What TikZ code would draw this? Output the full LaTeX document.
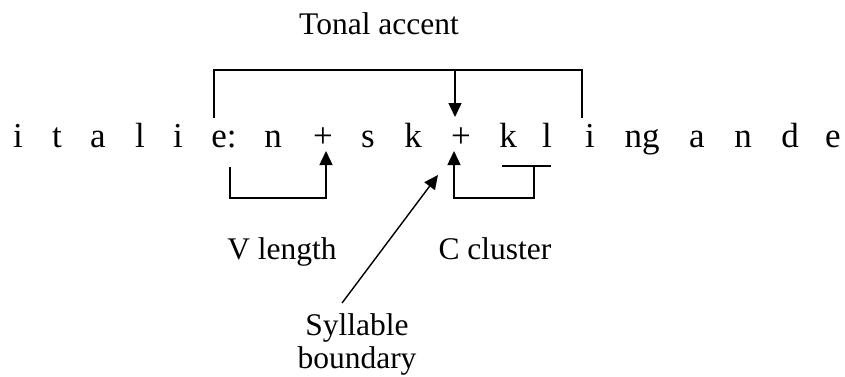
\documentclass[tikz,border=0pt]{standalone}
\usepackage{fontspec}
\setmainfont{Liberation Serif}
\usetikzlibrary{arrows.meta}
\begin{document}
\begin{tikzpicture}[x=1pt,y=-1pt,
  seg/.style={inner sep=0pt,anchor=base,font=\fontsize{35}{35}\selectfont},
  lbl/.style={inner sep=0pt,anchor=base,font=\fontsize{31.5}{33}\selectfont},
  bracket/.style={line width=1.4pt},
  pointer/.style={line width=1.4pt,-{Triangle[width=13pt,length=14pt]}}]
\useasboundingbox (0,0) rectangle (845,376);

% transcription, one segment per node
\foreach \x/\s/\n in {18/i/s1,57/t/s2,98/a/s3,140/l/s4,178/i/s5,224/e:/s6,
  273/n/s7,323/+/p1,368/s/s8,413/k/s9,461/+/p2,508/k/s10,547/l/s11,590/i/s12,
  642/ng/s13,697/a/s14,743/n/s15,790/d/s16,833/e/s17}
  \node[seg] (\n) at (\x,147) {\s};

% labels
\node[lbl] (tonal) at (379,34) {Tonal accent};
\node[lbl] (vlen) at (282,259) {V length};
\node[lbl] (ccl) at (495,259) {C cluster};
\node[lbl] (syl) at (357,335) {Syllable};
\node[lbl] (bnd) at (357,368) {boundary};

% tonal accent span
\coordinate (ta1) at (214,118);
\coordinate (ta2) at (214,70);
\coordinate (ta3) at (582,70);
\coordinate (ta4) at (582,118);
\coordinate (tam) at (455,70);
\coordinate (tatip) at (455,117);
\draw[bracket] (ta1) -- (ta2) -- (ta3) -- (ta4);
\draw[pointer] (tam) -- (tatip);

% vowel length
\coordinate (vl1) at (230,167);
\coordinate (vl2) at (230,198);
\coordinate (vl3) at (326,198);
\coordinate (vltip) at (326,151);
\draw[pointer] (vl1) -- (vl2) -- (vl3) -- (vltip);

% consonant cluster
\coordinate (cc1) at (534,166);
\coordinate (cc2) at (534,198);
\coordinate (cc3) at (454,198);
\coordinate (cctip) at (454,151);
\coordinate (cba) at (502,166);
\coordinate (cbb) at (551,166);
\draw[pointer] (cc1) -- (cc2) -- (cc3) -- (cctip);
\draw[bracket] (cba) -- (cbb);

% syllable boundary
\coordinate (sb1) at (342,303);
\coordinate (sbtip) at (438,175);
\draw[pointer] (sb1) -- (sbtip);
\end{tikzpicture}
\end{document}
